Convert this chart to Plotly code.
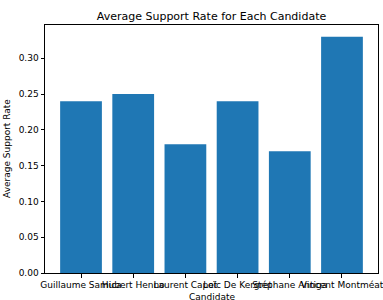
import plotly.graph_objects as go

candidates = ["Guillaume Samica", "Hubert Henno", "Laurent Capet", "Loïc De Kergret",
              "Stéphane Antiga", "Vincent Montméat"]
support = [0.24, 0.25, 0.18, 0.24, 0.17, 0.33]

fig = go.Figure(go.Bar(x=candidates, y=support, marker_color="#1f77b4",
                       marker_line_width=0, width=0.8, hoverinfo="skip"))

font = "DejaVu Sans"
fig.update_layout(
    width=383, height=300,
    margin=dict(l=45, r=5, t=25, b=27, autoexpand=False),
    plot_bgcolor="white", paper_bgcolor="white",
    font=dict(family=font, size=9, color="black"),
    title=dict(text="Average Support Rate for Each Candidate", x=0.5, xanchor="center",
               xref="paper", y=1 - 16/300, yanchor="middle", yref="container",
               font=dict(size=11, family=font)),
    showlegend=False,
    bargap=0.2,
    annotations=[
        dict(text="Candidate", xref="paper", yref="paper", x=0.5, y=-17/248,
             xanchor="center", yanchor="top", showarrow=False, font=dict(size=9)),
        dict(text="Average Support Rate", xref="paper", yref="paper", x=-31/333, y=0.5,
             xanchor="right", yanchor="middle", textangle=-90, showarrow=False,
             font=dict(size=9)),
    ],
)
fig.update_xaxes(range=[-0.69, 5.69], tickangle=0, showline=True, linecolor="black",
                 linewidth=1, mirror=True, ticks="outside", ticklen=3.5, tickcolor="black",
                 tickfont=dict(size=9), automargin=False, showgrid=False)
fig.update_yaxes(range=[0, 0.3465], tickvals=[0, 0.05, 0.1, 0.15, 0.2, 0.25, 0.3],
                 tickformat=".2f", showline=True, linecolor="black", linewidth=1, mirror=True,
                 ticks="outside", ticklen=3.5, tickcolor="black", tickfont=dict(size=9),
                 automargin=False, showgrid=False, zeroline=False)

fig.write_html("out.html", config={"displayModeBar": False},
               post_script="document.body.style.margin='0';document.body.style.overflow='hidden';")
